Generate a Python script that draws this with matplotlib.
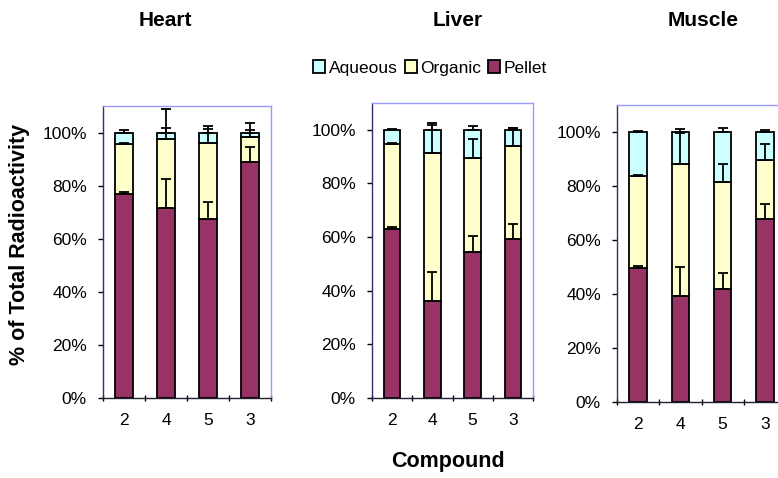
import numpy as np
import matplotlib
matplotlib.use("Agg")
import matplotlib.pyplot as plt

plt.rcParams["font.family"] = ["Liberation Sans", "DejaVu Sans"]

compounds = ["2", "4", "5", "3"]

heart_pellet = [77.0, 71.6, 67.4, 88.9]
heart_organic = [18.8, 26.1, 28.7, 9.3]
heart_aqueous = [4.2, 2.3, 3.9, 1.8]
heart_pellet_err = [0.5, 11.0, 6.3, 5.7]
heart_organic_err = [0.3, 4.0, 5.3, 2.9]
heart_aqueous_err = [0.8, 8.7, 2.4, 3.7]

liver_pellet = [63.2, 36.1, 54.4, 59.3]
liver_organic = [31.4, 55.3, 35.2, 34.7]
liver_aqueous = [5.4, 8.6, 10.4, 6.0]
liver_pellet_err = [0.5, 10.7, 6.0, 5.5]
liver_organic_err = [0.5, 10.5, 6.9, 6.7]
liver_aqueous_err = [0.3, 2.4, 1.4, 0.6]

muscle_pellet = [49.8, 39.4, 42.0, 67.9]
muscle_organic = [33.8, 48.7, 39.5, 21.9]
muscle_aqueous = [16.4, 11.9, 18.5, 10.2]
muscle_pellet_err = [0.5, 10.6, 5.8, 5.6]
muscle_organic_err = [0.5, 11.5, 6.8, 5.6]
muscle_aqueous_err = [0.2, 1.2, 1.5, 0.9]

pellet_col = "#993366"
organic_col = "#FFFFCC"
aqueous_col = "#CCFFFF"

fig = plt.figure(figsize=(7.78, 4.78), dpi=100)

# axes boxes in pixels: left, top, right, bottom
boxes = [(103, 106, 271, 398), (372, 103, 533, 398), (617, 105, 786, 402)]
data = [
    (heart_pellet, heart_organic, heart_aqueous,
     heart_pellet_err, heart_organic_err, heart_aqueous_err),
    (liver_pellet, liver_organic, liver_aqueous,
     liver_pellet_err, liver_organic_err, liver_aqueous_err),
    (muscle_pellet, muscle_organic, muscle_aqueous,
     muscle_pellet_err, muscle_organic_err, muscle_aqueous_err),
]
titles = [("Heart", 165), ("Liver", 458), ("Muscle", 703)]

W, H = 778, 478
x = np.arange(len(compounds))
bw = 0.41

for (l, t, r, b), d, (title, tx) in zip(boxes, data, titles):
    ax = fig.add_axes([l / W, (H - b) / H, (r - l) / W, (b - t) / H])
    pel, org, aq, pe, oe, ae = [np.array(v) for v in d]
    kw = dict(width=bw, edgecolor="black", linewidth=1.3, zorder=2)
    ax.bar(x, pel, color=pellet_col, label="Pellet", **kw)
    ax.bar(x, org, bottom=pel, color=organic_col, label="Organic", **kw)
    ax.bar(x, aq, bottom=pel + org, color=aqueous_col, label="Aqueous", **kw)

    ekw = dict(fmt="none", ecolor="black", elinewidth=1.3, capsize=3.5,
               capthick=1.3, zorder=3)
    z = np.zeros(len(x))
    ax.errorbar(x, pel, yerr=[z, pe], **ekw)
    ax.errorbar(x, pel + org, yerr=[z, oe], **ekw)
    ax.errorbar(x, pel + org + aq, yerr=[z, ae], **ekw)

    ax.set_xlim(-0.5, 3.5)
    ax.set_ylim(0, 110)
    ax.set_xticks(np.arange(-0.5, 4, 1.0))
    ax.set_xticklabels([])
    ax.set_xticks(x, minor=True)
    ax.set_xticklabels(compounds, minor=True)
    ax.tick_params(axis="x", which="minor", length=0, pad=11, labelsize=12.5)
    ax.tick_params(axis="x", which="major", length=5, width=1, direction="inout")
    ax.set_yticks(range(0, 101, 20))
    ax.set_yticklabels([f"{v}%" for v in range(0, 101, 20)])
    ax.tick_params(axis="y", length=3.6, width=1, direction="out", pad=8,
                   labelsize=12.5)

    ax.spines["top"].set_color("#9999FF")
    ax.spines["right"].set_color("#9999FF")
    ax.spines["left"].set_color("#30306a")
    ax.spines["bottom"].set_color("#202030")
    for s in ax.spines.values():
        s.set_linewidth(1.0)

    fig.text(tx / W, 1 - 20 / H, title, fontsize=15, fontweight="bold",
             ha="center", va="center")

handles, labels = ax.get_legend_handles_labels()
fig.legend(handles[::-1], labels[::-1], loc="center", bbox_to_anchor=(430 / W, 1 - 68 / H),
           ncol=3, frameon=False, fontsize=12.5, handlelength=0.7, handleheight=0.7,
           handletextpad=0.2, columnspacing=0.4)

fig.text(20 / W, 1 - 244 / H, "% of Total Radioactivity", rotation=90,
         fontsize=15.5, fontweight="bold", ha="center", va="center")
fig.text(448 / W, 1 - 462 / H, "Compound", fontsize=15.5, fontweight="bold",
         ha="center", va="center")

fig.savefig("out.png", dpi=100)
